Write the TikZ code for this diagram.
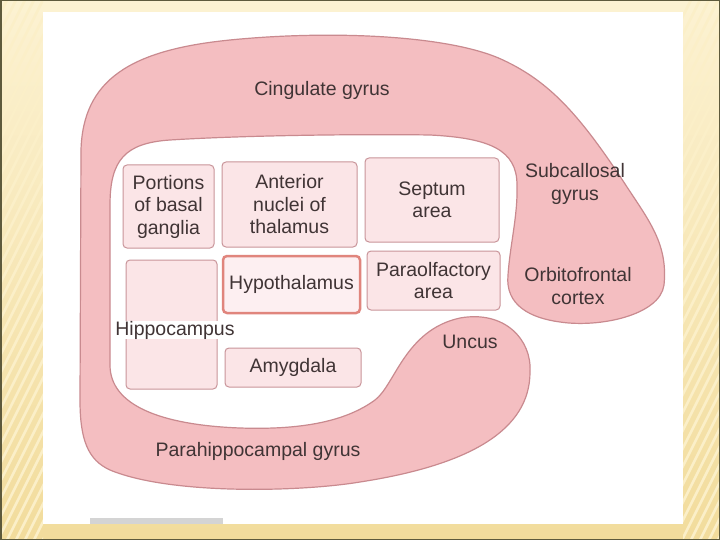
\documentclass[tikz,border=0pt]{standalone}
\usepackage{fontspec}
\setmainfont{Liberation Sans}
\definecolor{slidetop}{HTML}{FCF2D2}
\definecolor{slidebot}{HTML}{F2DC9C}
\definecolor{stripe}{HTML}{FBEFC8}
\definecolor{frame}{HTML}{5E5A3C}
\definecolor{gyrus}{HTML}{F4BEC1}
\definecolor{gyrusedge}{HTML}{C98A8F}
\definecolor{areafill}{HTML}{FBE5E7}
\definecolor{areaedge}{HTML}{C9959A}
\definecolor{hypoedge}{HTML}{E0857D}
\definecolor{ink}{HTML}{403435}
\tikzset{
  area/.style={draw=areaedge, fill=areafill, line width=1pt, rounded corners=4pt,
    align=center, text=ink, inner sep=0pt},
  lbl/.style={text=ink, align=center, inner sep=1pt},
}
\begin{document}
\begin{tikzpicture}[x=1pt, y=-1pt, font=\fontsize{19.5}{22.5}\selectfont]
    \useasboundingbox (0,0) rectangle (720,540);
    % Slide background
    \shade[top color=slidetop, bottom color=slidebot] (0,0) rectangle (720,540);
    \begin{scope}
        \clip (0,0) rectangle (43,540) (683,0) rectangle (720,540);
        \foreach \s in {-300,-291,...,720}{
            \draw[stripe, line width=2.5pt] (\s,560) -- (\s+290,-20);
        }
    \end{scope}
    \draw[frame, line width=1.5pt] (0.75,0.75) rectangle (719.25,539.25);
    % Scanned figure
    \fill[white] (43,12) rectangle (683,524);
    \fill[black!17] (90,518) rectangle (223,524);
    % Limbic band
    \draw[gyrusedge, fill=gyrus, line width=1.2pt]
        (80,400) -- (81,150)
        .. controls (83,80) and (130,50) .. (230,40)
        .. controls (330,30) and (450,35) .. (503,60)
        .. controls (550,82) and (580,115) .. (627,187)
        .. controls (650,222) and (668,245) .. (664,285)
        .. controls (660,315) and (600,328) .. (560,322)
        .. controls (530,318) and (505,305) .. (508,275)
        .. controls (510,245) and (518,215) .. (517,185)
        .. controls (517,150) and (490,138) .. (430,135)
        .. controls (370,134) and (250,135) .. (170,140)
        .. controls (125,143) and (110,160) .. (110,205)
        -- (110,365)
        .. controls (110,405) and (160,425) .. (240,428)
        .. controls (300,430) and (345,422) .. (375,400)
        .. controls (395,385) and (405,330) .. (460,318)
        .. controls (505,310) and (532,340) .. (530,372)
        .. controls (530,430) and (470,465) .. (360,482)
        .. controls (300,492) and (170,495) .. (110,470)
        .. controls (88,460) and (80,440) .. (80,400) -- cycle;
    % Band labels
    \node[lbl] (cingulate) at (322,90) {Cingulate gyrus};
    \node[lbl] (subcallosal) at (575,184) {Subcallosal\\gyrus};
    \node[lbl] (orbito) at (578,286) {Orbitofrontal\\cortex};
    \node[lbl] (uncus) at (470,342) {Uncus};
    \node[lbl] (parahippo) at (258,451) {Parahippocampal gyrus};
    % Inner areas
    \node[area, minimum width=91pt, minimum height=83pt] (basal) at (168.5,206.5) {Portions\\of basal\\ganglia};
    \node[area, minimum width=135pt, minimum height=85pt] (anterior) at (289.5,204.5) {Anterior\\nuclei of\\thalamus};
    \node[area, minimum width=134pt, minimum height=84pt] (septum) at (432,200) {Septum\\area};
    \node[area, minimum width=133pt, minimum height=59pt] (paraolf) at (433.5,280.5) {Paraolfactory\\area};
    \node[area, draw=hypoedge, line width=2.5pt, fill=areafill!60, minimum width=137pt, minimum height=57pt] (hypo) at (291.5,284.5) {Hypothalamus};
    \node[area, minimum width=91pt, minimum height=129pt] (hippobox) at (171.5,324.5) {};
    \node[lbl, fill=white, inner sep=0pt] (hippo) at (175,330) {Hippocampus};
    \node[area, minimum width=136pt, minimum height=39pt] (amygdala) at (293,367.5) {Amygdala};
\end{tikzpicture}
\end{document}
